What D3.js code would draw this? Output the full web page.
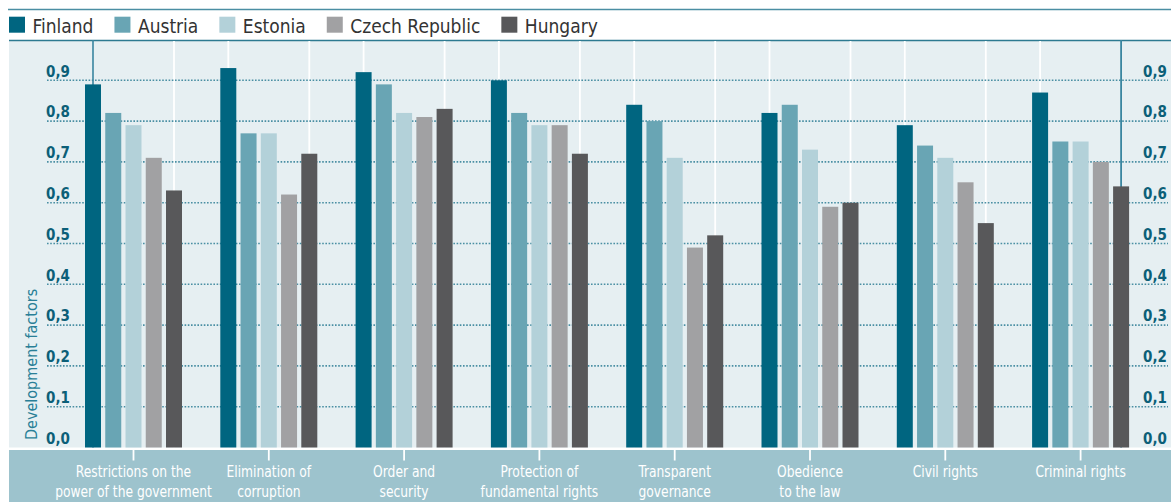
<!DOCTYPE html>
<html>
<head>
<meta charset="utf-8">
<script src="https://cdn.jsdelivr.net/npm/d3@7/dist/d3.min.js"></script>
<style>
  html, body { margin: 0; padding: 0; background: #ffffff; }
  svg { display: block; }
</style>
</head>
<body>
<svg id="chart" width="1171" height="502"></svg>
<script>
// Rule-of-law development factors by country
const categories = [
  "Restrictions on the power of the government",
  "Elimination of corruption",
  "Order and security",
  "Protection of fundamental rights",
  "Transparent governance",
  "Obedience to the law",
  "Civil rights",
  "Criminal rights"
];
const categoryLines = [
  ["Restrictions on the", "power of the government"],
  ["Elimination of", "corruption"],
  ["Order and", "security"],
  ["Protection of", "fundamental rights"],
  ["Transparent", "governance"],
  ["Obedience", "to the law"],
  ["Civil rights"],
  ["Criminal rights"]
];
const series = ["Finland", "Austria", "Estonia", "Czech Republic", "Hungary"];
const finland = [0.89, 0.93, 0.92, 0.90, 0.84, 0.82, 0.79, 0.87];
const austria = [0.82, 0.77, 0.89, 0.82, 0.80, 0.84, 0.74, 0.75];
const estonia = [0.79, 0.77, 0.82, 0.79, 0.71, 0.73, 0.71, 0.75];
const czech   = [0.71, 0.62, 0.81, 0.79, 0.49, 0.59, 0.65, 0.70];
const hungary = [0.63, 0.72, 0.83, 0.72, 0.52, 0.60, 0.55, 0.64];
const yTicks = [0, 0.1, 0.2, 0.3, 0.4, 0.5, 0.6, 0.7, 0.8, 0.9];
const yTitle = "Development factors";

const seriesValues = [finland, austria, estonia, czech, hungary];
const colors = ["#006580", "#69a5b4", "#b3d1d9", "#a1a1a3", "#58585a"];

const W = 1171, H = 502;
const plotLeft = 9, plotTop = 40, plotBottom = 447.5;
const bandTop = 450;
const COND_FONT = "'DejaVu Sans Condensed', 'DejaVu Sans', sans-serif";

const svg = d3.select("#chart");

const y = d3.scaleLinear().domain([0, 1]).range([plotBottom, plotBottom - 408]);
const x0 = d3.scaleBand().domain(categories).range([65.85, 1148.25]).padding(0);
const x1 = d3.scaleBand().domain(series).range([-48.5, 48.5]).paddingInner(0.21);
const cx = c => x0(c) + x0.bandwidth() / 2;
const fmt = v => d3.format(".1f")(v).replace(".", ",");

// top rule
svg.append("line")
  .attr("x1", 8).attr("x2", W).attr("y1", 9.5).attr("y2", 9.5)
  .attr("stroke", "#4b8ea3").attr("stroke-width", 1.4);

// plot background
svg.append("rect")
  .attr("x", plotLeft).attr("y", plotTop)
  .attr("width", W - plotLeft).attr("height", plotBottom - plotTop)
  .attr("fill", "#e6eff2");

svg.append("line")
  .attr("x1", plotLeft).attr("x2", W).attr("y1", plotTop + 0.5).attr("y2", plotTop + 0.5)
  .attr("stroke", "#2d7a91").attr("stroke-width", 1.6);

// bottom category band
svg.append("rect")
  .attr("x", plotLeft).attr("y", bandTop)
  .attr("width", W - plotLeft).attr("height", H - bandTop)
  .attr("fill", "#9dc3cd");

// white guide lines through first and last bar of each group
const guides = [];
categories.forEach(c => {
  guides.push(cx(c) + x1(series[0]) + x1.bandwidth() / 2);
  guides.push(cx(c) + x1(series[series.length - 1]) + x1.bandwidth() / 2);
});
svg.append("g").selectAll("line")
  .data(guides.slice(1, -1))
  .join("line")
  .attr("x1", d => d).attr("x2", d => d)
  .attr("y1", plotTop + 1).attr("y2", plotBottom)
  .attr("stroke", "#ffffff").attr("stroke-width", 1.8);

// dotted horizontal gridlines
svg.append("g").selectAll("line")
  .data(yTicks.filter(t => t > 0))
  .join("line")
  .attr("x1", 47).attr("x2", 1168)
  .attr("y1", d => y(d)).attr("y2", d => y(d))
  .attr("stroke", "#2f7f96").attr("stroke-width", 1.6)
  .attr("stroke-dasharray", "1.6,1.6").attr("opacity", 0.85);

// axis lines (left and right)
const leftAxisX = guides[0];
const rightAxisX = guides[guides.length - 1];
svg.append("line")
  .attr("x1", leftAxisX).attr("x2", leftAxisX)
  .attr("y1", plotTop).attr("y2", plotBottom)
  .attr("stroke", "#3a86a0").attr("stroke-width", 1.6);
svg.append("line")
  .attr("x1", rightAxisX).attr("x2", rightAxisX)
  .attr("y1", plotTop).attr("y2", plotBottom)
  .attr("stroke", "#3a86a0").attr("stroke-width", 1.8);

// bars
const groups = svg.append("g").selectAll("g")
  .data(categories)
  .join("g")
  .attr("transform", c => `translate(${cx(c)},0)`);

groups.selectAll("rect")
  .data((c, i) => series.map((s, j) => ({ s, j, v: seriesValues[j][i] })))
  .join("rect")
  .attr("x", d => x1(d.s))
  .attr("width", x1.bandwidth())
  .attr("y", d => y(d.v))
  .attr("height", d => y(0) - y(d.v))
  .attr("fill", d => colors[d.j]);

// y axes (labels only)
function styleAxis(g) {
  g.select(".domain").remove();
  g.selectAll(".tick line").remove();
  g.selectAll(".tick text")
    .attr("dy", "-4.2")
    .attr("y", 0)
    .attr("fill", "#0c5f78")
    .style("font-family", COND_FONT)
    .style("font-weight", "bold")
    .style("font-size", "15px");
}
svg.append("g")
  .attr("transform", "translate(70,0)")
  .call(d3.axisLeft(y).tickValues(yTicks).tickFormat(fmt).tickSize(0).tickPadding(0))
  .call(styleAxis);

svg.append("g")
  .attr("transform", "translate(1167,0)")
  .call(d3.axisLeft(y).tickValues(yTicks).tickFormat(fmt).tickSize(0).tickPadding(0))
  .call(styleAxis);

// y title
svg.append("text")
  .attr("transform", "translate(36.5,440) rotate(-90)")
  .attr("text-anchor", "start")
  .attr("fill", "#2a7f97")
  .style("font-family", COND_FONT)
  .style("font-size", "16px")
  .text(yTitle);

// category ticks and labels on the band
const xg = svg.append("g");
categories.forEach((c, i) => {
  xg.append("line")
    .attr("x1", cx(c)).attr("x2", cx(c))
    .attr("y1", bandTop).attr("y2", 460.5)
    .attr("stroke", "#ffffff").attr("stroke-width", 1.8);
  const t = xg.append("text")
    .attr("transform", `translate(${cx(c)},0) scale(0.855,1)`)
    .attr("text-anchor", "middle")
    .attr("fill", "#ffffff")
    .style("font-family", COND_FONT)
    .style("font-size", "16px");
  categoryLines[i].forEach((line, k) => {
    t.append("tspan").attr("x", 0).attr("y", 477.5 + k * 20).text(line);
  });
});

// legend
const legend = svg.append("g");
let lx = 9;
series.forEach((s, j) => {
  legend.append("rect")
    .attr("x", lx).attr("y", 16.7).attr("width", 16).attr("height", 16)
    .attr("fill", colors[j]);
  const t = legend.append("text")
    .attr("x", lx + 23.5).attr("y", 32.5)
    .attr("fill", "#333333")
    .style("font-family", COND_FONT)
    .style("font-size", "19px")
    .text(s);
  lx = lx + 23.5 + t.node().getComputedTextLength() + 21;
});
</script>
</body>
</html>
